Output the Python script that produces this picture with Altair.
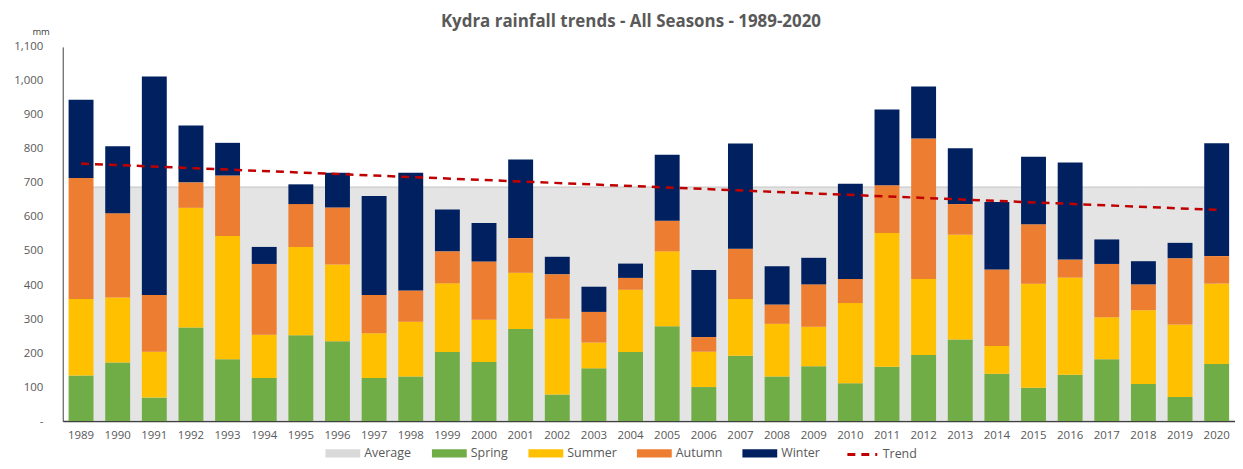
import altair as alt
import pandas as pd

years = [1989, 1990, 1991, 1992, 1993, 1994, 1995, 1996, 1997, 1998,
         1999, 2000, 2001, 2002, 2003, 2004, 2005, 2006, 2007, 2008,
         2009, 2010, 2011, 2012, 2013, 2014, 2015, 2016, 2017, 2018,
         2019, 2020]
spring = [134, 172, 69, 275, 182, 127, 252, 235, 127, 131,
          203, 174, 271, 78, 155, 203, 279, 100, 192, 131,
          161, 111, 160, 194, 240, 139, 98, 136, 182, 109,
          71, 168]
summer = [225, 191, 135, 352, 362, 127, 260, 225, 131, 161,
          202, 124, 165, 223, 76, 183, 220, 104, 167, 155,
          116, 236, 393, 224, 308, 82, 306, 286, 123, 217,
          213, 236]
autumn = [356, 248, 167, 75, 178, 208, 126, 168, 113, 92,
          94, 171, 102, 131, 90, 35, 90, 43, 148, 57,
          125, 71, 140, 413, 90, 225, 175, 53, 157, 76,
          195, 81]
winter = [230, 197, 642, 167, 96, 50, 58, 102, 291, 346,
          123, 113, 231, 51, 74, 42, 194, 197, 309, 112,
          78, 280, 223, 153, 164, 198, 198, 285, 72, 68,
          45, 332]
average = 688
trend_years = [1989, 2020]
trend_values = [757, 621]

seasons = ["Spring", "Summer", "Autumn", "Winter"]
legend_items = ["Average"] + seasons
colors = ["#d9d9d9", "#70ad47", "#ffc000", "#ed7d31", "#002060"]

year_labels = [str(y) for y in years]
rows = []
for i, y in enumerate(year_labels):
    for k, vals in enumerate([spring, summer, autumn, winter]):
        rows.append({"year": y, "season": seasons[k], "order": k, "value": vals[i]})
bars_df = pd.DataFrame(rows)
avg_df = pd.DataFrame({"year": year_labels, "value": [average] * len(years)})
trend_df = pd.DataFrame({"year": [str(y) for y in trend_years],
                         "value": trend_values,
                         "series": ["Trend"] * len(trend_years)})

font = "Open Sans"
grey = "#595959"

x_enc = alt.X("year:O",
              scale=alt.Scale(domain=year_labels, paddingInner=0.32, paddingOuter=0.16),
              axis=alt.Axis(title=None, labelAngle=0, ticks=False, domainColor="#404040",
                            domainWidth=1.5, labelColor=grey, labelFontSize=11.5,
                            labelPadding=8, labelFont=font))
y_enc = alt.Y("value:Q",
              scale=alt.Scale(domain=[0, 1100]),
              axis=alt.Axis(values=list(range(0, 1101, 100)),
                            labelExpr="datum.value == 0 ? '-' : format(datum.value, ',')",
                            grid=False, ticks=False, domainColor="#404040", domainWidth=1,
                            labelColor=grey, labelFontSize=11.5, labelFont=font,
                            labelPadding=20,
                            title="mm", titleAngle=0, titleX=-31, titleY=-15,
                            titleAlign="left", titleBaseline="middle", titleFontSize=9.5,
                            titleFontWeight="normal", titleColor="#404040", titleFont=font))

area = alt.Chart(avg_df).mark_area(color="#d9d9d9", line={"color": "#c4c4c4", "strokeWidth": 1}).encode(
    x=x_enc, y=y_enc)

bars = alt.Chart(bars_df).mark_bar().encode(
    x=x_enc,
    y=y_enc,
    color=alt.Color("season:N",
                    scale=alt.Scale(domain=legend_items, range=colors),
                    legend=alt.Legend(orient="none", legendX=264, legendY=391,
                                      direction="horizontal", title=None, padding=0,
                                      symbolType="M-1,-0.24L1,-0.24L1,0.24L-1,0.24Z",
                                      symbolSize=1225, symbolStrokeWidth=0,
                                      labelFont=font, labelFontSize=12.5, labelColor=grey,
                                      labelOffset=4, columnPadding=20)),
    order=alt.Order("order:Q"))

trend = alt.Chart(trend_df).mark_line(color="#c00000", strokeWidth=2.5).encode(
    x=x_enc,
    y=y_enc,
    strokeDash=alt.StrokeDash("series:N",
                              scale=alt.Scale(domain=["Trend"], range=[[8, 6]]),
                              legend=alt.Legend(orient="none", legendX=787, legendY=393,
                                                title=None, padding=0, symbolType="stroke",
                                                symbolStrokeColor="#c00000",
                                                symbolStrokeWidth=3, symbolSize=900,
                                                symbolDash=[9, 7],
                                                labelFont=font, labelFontSize=12.5,
                                                labelColor=grey, labelOffset=4)))

chart = alt.layer(area, bars, trend).properties(
    width=1178, height=376,
    title=alt.TitleParams(text="Kydra rainfall trends - All Seasons - 1989-2020",
                          font=font, fontSize=17, fontWeight="bold", color=grey,
                          anchor="middle", offset=-4, dx=-18),
    autosize=alt.AutoSizeParams(type="none"),
    padding={"left": 55, "top": 38, "right": 0, "bottom": 39},
).configure_view(stroke=None)

chart.save("out.html", embed_options={"renderer": "svg", "actions": False})
